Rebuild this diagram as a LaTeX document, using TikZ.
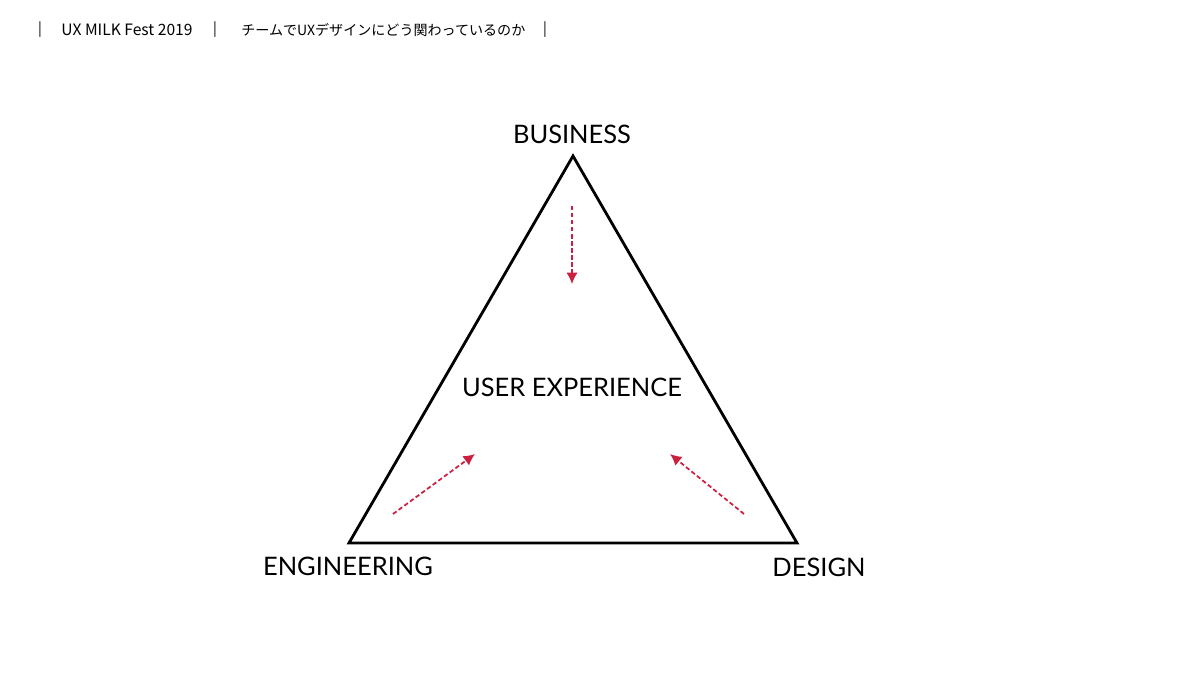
\documentclass[tikz,border=0pt]{standalone}
\usepackage{fontspec}
\setmainfont{Lato}
\newfontfamily\jpfont{Noto Sans CJK JP}
\usepackage{xcolor}
\usetikzlibrary{arrows.meta}
\definecolor{uxred}{RGB}{204, 32, 64}
\definecolor{textblack}{RGB}{0, 0, 0}

\begin{document}
\begin{tikzpicture}[
        x=0.02cm, y=-0.02cm,
        header/.style={font=\jpfont\fontsize{8}{10}\selectfont, text=textblack, inner sep=0pt},
        corner/.style={font=\fontsize{14.5}{17}\selectfont, text=textblack, inner sep=0pt},
        force/.style={-{Latex[length=6.5pt, width=6.5pt]}, dashed, dash pattern=on 2.5pt off 1.5pt, color=uxred, line width=1pt},
        side/.style={line width=1.6pt, color=textblack, line join=miter}
    ]
    \useasboundingbox (0, 0) rectangle (1200, 675);

    % Header line
    \node[header] (bar1) at (40, 30) {|};
    \node[header, font=\jpfont\fontsize{8.9}{10}\selectfont] (event) at (127, 30) {UX MILK Fest 2019};
    \node[header] (bar2) at (215, 30) {|};
    \node[header, anchor=west] (title) at (241, 30) {チームでUXデザインにどう関わっているのか};
    \node[header] (bar3) at (545, 30) {|};

    % Triangle
    \coordinate (top) at (573, 156);
    \coordinate (left) at (349, 543);
    \coordinate (right) at (797, 543);
    \draw[side] (top) -- (left) -- (right) -- cycle;

    % Corner labels
    \node[corner] (business) at (572, 134) {BUSINESS};
    \node[corner] (engineering) at (348, 566) {ENGINEERING};
    \node[corner] (design) at (819, 567) {DESIGN};
    \node[corner] (ux) at (572, 387) {USER EXPERIENCE};

    % Forces pulling to the middle
    \coordinate (b1) at (572, 206);
    \coordinate (b2) at (572, 284);
    \coordinate (e1) at (393, 514);
    \coordinate (e2) at (475, 454);
    \coordinate (d1) at (744, 514);
    \coordinate (d2) at (670, 454);
    \draw[force] (b1) -- (b2);
    \draw[force] (e1) -- (e2);
    \draw[force] (d1) -- (d2);

\end{tikzpicture}
\end{document}
